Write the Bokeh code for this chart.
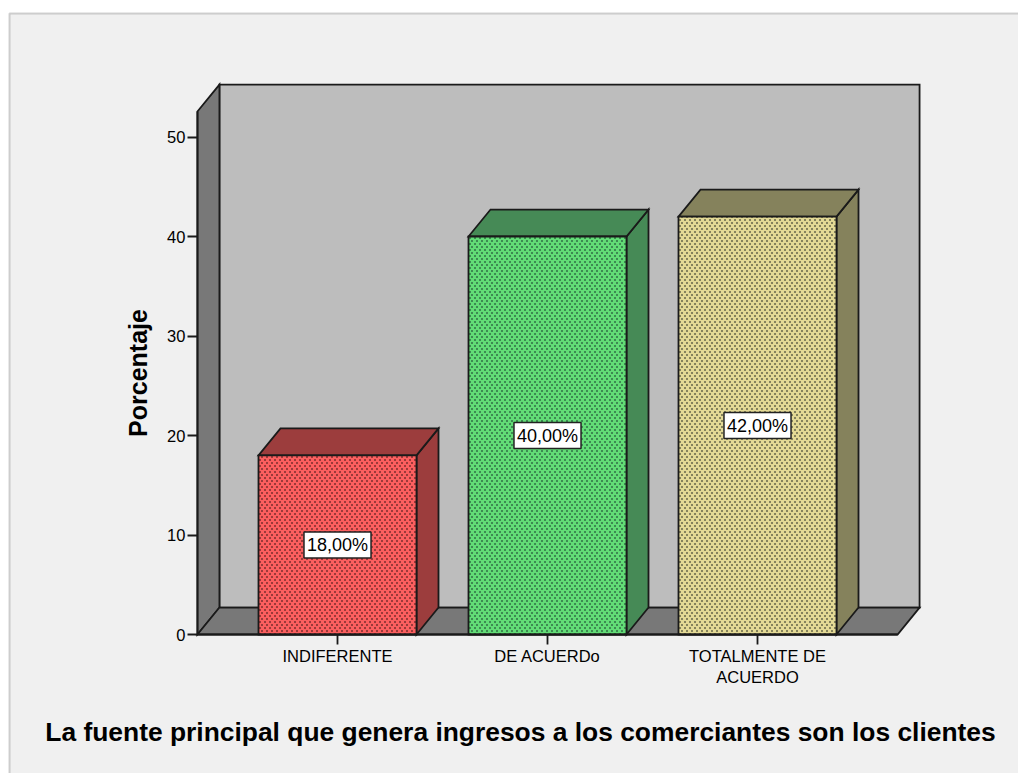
import base64, struct, zlib
from bokeh.plotting import figure
from bokeh.models import FixedTicker, Label, BoxAnnotation, Range1d, ImageURLTexture
from bokeh.core.properties import value
from bokeh.embed import file_html
from bokeh.resources import INLINE

categories = ["INDIFERENTE", "DE ACUERDo", "TOTALMENTE DE\nACUERDO"]
percentages = [18.0, 40.0, 42.0]
labels = ["18,00%", "40,00%", "42,00%"]
y_ticks = [0, 10, 20, 30, 40, 50]
y_label = "Porcentaje"
x_title = "La fuente principal que genera ingresos a los comerciantes son los clientes"

face_colors = ["#fb5f5f", "#62dc76", "#e3d995"]
dot_colors = [(156, 58, 58), (61, 138, 82), (133, 130, 92)]
side_colors = ["#9c3d3d", "#468a56", "#85825c"]

FONT = "Liberation Sans"
W, H = 1018, 773
PX_X, PX_Y = 210.0, 9.95   # pixels per category / per percent
DX, DY = 22 / PX_X, 2.71   # oblique depth in data units
HALF = 79 / PX_X
X0, X1 = -0.667, 2.667     # floor extent
YTOP = 52.56


def dot_tile(rgb):
    """A 5x6 staggered-dash texture, as a PNG data URL."""
    rows = b""
    for r in range(6):
        rows += b"\x00"
        for c in range(5):
            on = (r in (0, 1) and c in (1, 2)) or (r in (3, 4) and c in (4, 0))
            rows += bytes(rgb) + (b"\xff" if on else b"\x00")

    def chunk(tag, data):
        return struct.pack(">I", len(data)) + tag + data + struct.pack(">I", zlib.crc32(tag + data))

    png = (b"\x89PNG\r\n\x1a\n" + chunk(b"IHDR", struct.pack(">IIBBBBB", 5, 6, 8, 6, 0, 0, 0))
           + chunk(b"IDAT", zlib.compress(rows)) + chunk(b"IEND", b""))
    return "data:image/png;base64," + base64.b64encode(png).decode()


p = figure(width=W, height=H, output_backend="svg", toolbar_location=None,
           x_range=Range1d((0 - 337) / PX_X, (W - 337) / PX_X),
           y_range=Range1d((634 - H) / PX_Y, 634 / PX_Y),
           min_border=0, min_border_left=0, min_border_right=0, min_border_top=0, min_border_bottom=0)
p.outline_line_color = None
p.grid.visible = False
p.background_fill_color = "white"
p.border_fill_color = "white"

panel = BoxAnnotation(left=9, right=W + 8, top=H - 13, bottom=-8,
                      left_units="screen", right_units="screen", top_units="screen", bottom_units="screen",
                      fill_color="#f0f0f0", fill_alpha=1, line_color="#6e6e6e", line_width=2, level="underlay")
p.add_layout(panel)

edge = dict(line_color="#1a1a1a", line_width=1.8, line_join="miter")

# walls
p.patch([X0 + DX, X1 + DX, X1 + DX, X0 + DX], [DY, DY, YTOP + DY, YTOP + DY], fill_color="#bdbdbd", **edge)
p.patch([X0, X0 + DX, X0 + DX, X0], [0, DY, YTOP + DY, YTOP], fill_color="#787878", **edge)
p.patch([X0, X1, X1 + DX, X0 + DX], [0, 0, DY, DY], fill_color="#787878", **edge)

xs = list(range(len(categories)))
side_xs = [[x + HALF, x + HALF + DX, x + HALF + DX, x + HALF] for x in xs]
side_ys = [[0, DY, v + DY, v] for v in percentages]
top_xs = [[x - HALF, x + HALF, x + HALF + DX, x - HALF + DX] for x in xs]
top_ys = [[v, v, v + DY, v + DY] for v in percentages]
p.patches(side_xs, side_ys, fill_color=side_colors, **edge)
p.patches(top_xs, top_ys, fill_color=side_colors, **edge)

for x, v, face, rgb in zip(xs, percentages, face_colors, dot_colors):
    p.vbar(x=[x], width=2 * HALF, top=[v], bottom=0, fill_color=face,
           hatch_pattern="x", hatch_extra={"x": ImageURLTexture(url=dot_tile(rgb))}, **edge)

for x, v, lab in zip(xs, percentages, labels):
    p.add_layout(Label(x=x, y=v / 2, text=lab, text_align="center", text_baseline="middle",
                       text_font=FONT, text_font_size="18px", text_color="black",
                       background_fill_color="white", border_line_color="#222222", border_line_width=1.5,
                       padding=3))

# axes
ya = p.yaxis[0]
ya.fixed_location = X0
ya.bounds = (0, YTOP)
ya.ticker = FixedTicker(ticks=y_ticks)
ya.minor_tick_line_color = None
ya.major_tick_in = 0
ya.major_tick_out = 10
ya.major_tick_line_color = "#1a1a1a"
ya.major_tick_line_width = 1.8
ya.axis_line_color = "#1a1a1a"
ya.axis_line_width = 1.8
ya.major_label_text_font = FONT
ya.major_label_text_font_size = "16.5px"
ya.major_label_text_color = "black"
ya.major_label_standoff = 2
ya.axis_label = y_label
ya.axis_label_text_font = FONT
ya.axis_label_text_font_style = "bold"
ya.axis_label_text_font_size = "25px"
ya.axis_label_text_color = "black"
ya.axis_label_standoff = 12

xa = p.xaxis[0]
xa.fixed_location = 0
xa.bounds = (X0, X1)
xa.ticker = FixedTicker(ticks=xs)
xa.major_label_overrides = {i: c for i, c in enumerate(categories)}
xa.minor_tick_line_color = None
xa.major_tick_in = 0
xa.major_tick_out = 10
xa.major_tick_line_color = "#1a1a1a"
xa.major_tick_line_width = 1.8
xa.axis_line_color = "#1a1a1a"
xa.axis_line_width = 1.8
xa.major_label_text_font = FONT
xa.major_label_text_font_size = "16.5px"
xa.major_label_text_color = "black"
xa.major_label_standoff = 2

# horizontal title
p.text(x=[(520 - 337) / PX_X], y=[(634 - 731) / PX_Y], text=[x_title], text_font=value(FONT),
       text_font_style="bold", text_font_size="26.4px", text_color="black",
       text_align="center", text_baseline="middle")

open("out.html", "w").write(file_html(p, INLINE))
